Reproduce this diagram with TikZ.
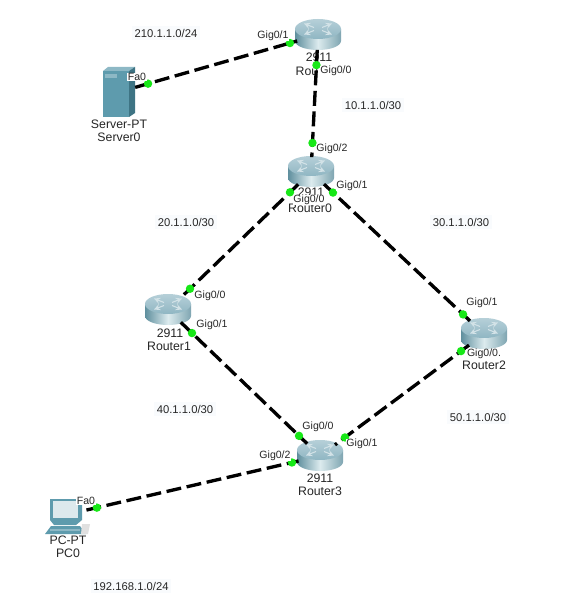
\documentclass[tikz,border=0pt]{standalone}
\usepackage{fontspec}
\setmainfont{Liberation Sans}
\usetikzlibrary{shapes.geometric}

\definecolor{routerdark}{HTML}{5F8F9E}
\definecolor{routerlight}{HTML}{DCEBEE}
\definecolor{routertop}{HTML}{8FB6C3}
\definecolor{portgreen}{HTML}{17E817}
\definecolor{serverfront}{HTML}{5E9BAD}
\definecolor{serverside}{HTML}{3E7484}
\definecolor{servertop}{HTML}{8DB8C5}
\definecolor{patchblue}{HTML}{F9FBFD}

\tikzset{
  routernode/.style={ellipse,minimum width=25.5pt,minimum height=16.5pt,inner sep=0pt},
  boxnode/.style={rectangle,minimum width=#1,minimum height=28pt,inner sep=0pt},
  link/.style={line width=1.9pt,dash pattern=on 8.5pt off 3.2pt},
  portdot/.style={circle,fill=portgreen,minimum size=4.8pt,inner sep=0pt},
  portlabel/.style={fill=white,inner sep=0.3pt,font=\fontsize{6}{7}\selectfont,text=black!85},
  devlabel/.style={inner sep=0pt,font=\fontsize{7}{8}\selectfont,text=black!85},
  netlabel/.style={fill=patchblue,inner sep=1.5pt,font=\fontsize{6.4}{7}\selectfont,text=black!85},
}

% router icon, centred on #1,#2
\newcommand{\drawrouter}[2]{%
  \begin{scope}[shift={(#1,#2)}]
    \path[left color=routerdark,right color=routerdark!80,middle color=routerlight]
      (-23,-6) -- (-23,6) arc (180:360:23 and -9) -- (23,-6) -- cycle;
    \path[top color=routertop!65!white,bottom color=routertop] (0,-6) ellipse (23 and 10);
    \foreach \sx/\sy in {1/1,-1/1,1/-1,-1/-1}
      \draw[white!60!routertop,line width=0.6pt,-stealth]
        (\sx*4,-6+\sy*1.5) -- (\sx*14,-6+\sy*5.5);
  \end{scope}}

\begin{document}
\begin{tikzpicture}[x=0.2mm,y=-0.2mm]
\useasboundingbox (0,0) rectangle (576,600);
\fill[white] (0,0) rectangle (576,600);

% Subnets
\node[netlabel] (net210) at (166,33) {210.1.1.0/24};
\node[netlabel] (net10) at (373,105) {10.1.1.0/30};
\node[netlabel] (net20) at (186,222) {20.1.1.0/30};
\node[netlabel] (net30) at (461,222) {30.1.1.0/30};
\node[netlabel] (net40) at (185,409) {40.1.1.0/30};
\node[netlabel] (net50) at (478,417) {50.1.1.0/30};
\node[netlabel] (net192) at (131,586) {192.168.1.0/24};

% Device names
\node[devlabel] (modeltop) at (319,57) {2911};
\node[devlabel] (nametop) at (307,71) {Rou};
\node[devlabel] (modelzero) at (311,192) {2911};
\node[devlabel] (namezero) at (310,208) {Router0};
\node[devlabel] (modelone) at (170,333) {2911};
\node[devlabel] (nameone) at (169,346) {Router1};
\node[devlabel] (nametwo) at (484,365) {Router2};
\node[devlabel] (modelthree) at (320,478) {2911};
\node[devlabel] (namethree) at (320,491) {Router3};
\node[devlabel] (typesrv) at (119,124) {Server-PT};
\node[devlabel] (namesrv) at (119,137) {Server0};
\node[devlabel] (typepc) at (68,540) {PC-PT};
\node[devlabel] (namepc) at (68,553) {PC0};

% Routers
\foreach \n/\x/\y in {rtop/318/35,rzero/311/172,rone/168/310,rtwo/484/334,rthree/320/456} {
  \drawrouter{\x}{\y}
  \node[routernode] (\n) at (\x,\y) {};
}

% Server
\node[boxnode=18pt] (srv) at (119,92) {};
\fill[serverfront] (103,71) rectangle (129,117);
\fill[servertop] (103,71) -- (108,67) -- (135,67) -- (129,71) -- cycle;
\fill[serverside] (129,71) -- (135,67) -- (135,113) -- (129,117) -- cycle;
\fill[servertop] (105,74) rectangle (117,78);

% PC
\node[boxnode=24pt] (pc) at (65,515) {};
\fill[serverfront] (50,499) -- (82,499) -- (82,520) -- (76,525) -- (54,525) -- (50,520) -- cycle;
\fill[white!70!routertop] (53,501) rectangle (78,518);
\fill[serverfront] (45,534) -- (51,526) -- (80,526) -- (86,534) -- cycle;
\fill[servertop] (50,529) rectangle (80,531);
\fill[black!12] (82,524) -- (90,524) -- (88,534) -- (81,534) -- cycle;

% Links
\foreach \a/\b/\p/\q in {srv/rtop/.146/.859,rtop/rzero/.22/.788,rzero/rone/.147/.846,
    rzero/rtwo/.127/.879,rone/rthree/.158/.862,rtwo/rthree/.14/.848,pc/rthree/.125/.89} {
  \draw[link] (\a) -- (\b);
  \path (\a.center) -- node[portdot,pos=\p] (\a-\b-p) {} node[portdot,pos=\q] (\a-\b-q) {} (\b.center);
}

% Ports
\foreach \i/\x/\y/\t in {1/273/36/Gig0\slash 1,2/137/77/Fa0,3/336/71/Gig0\slash 0,4/332/149/Gig0\slash 2,
    5/309/200/Gig0\slash 0,6/352/186/Gig0\slash 1,7/210/296/Gig0\slash 0,8/212/325/Gig0\slash 1,
    9/482/303/Gig0\slash 1,10/484/354/Gig0\slash 0.,11/318/427/Gig0\slash 0,12/362/444/Gig0\slash 1,
    13/275/456/Gig0\slash 2,14/86/501/Fa0}
  \node[portlabel] (port\i) at (\x,\y) {\t};

\end{tikzpicture}
\end{document}
